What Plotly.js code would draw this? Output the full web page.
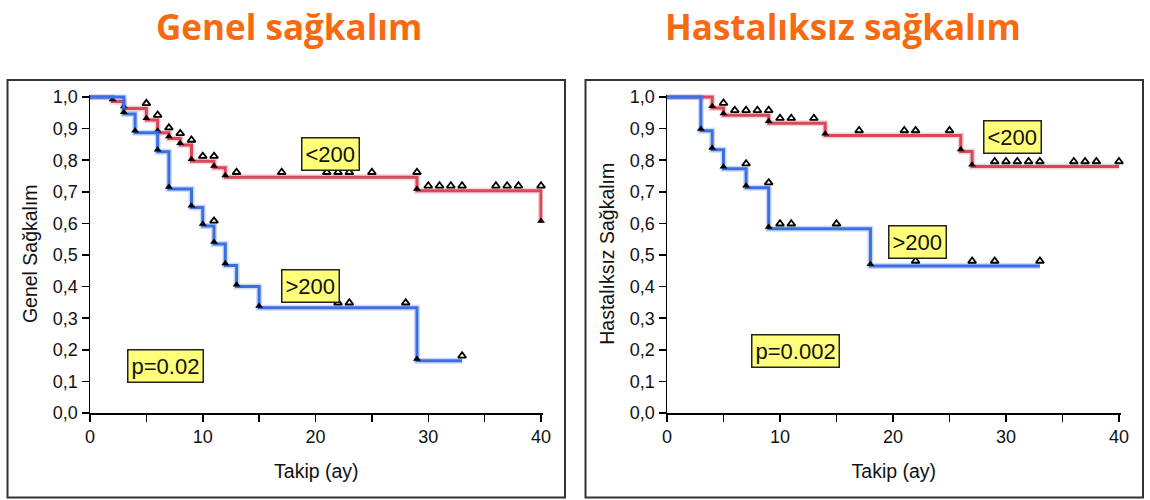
<!DOCTYPE html>
<html><head><meta charset="utf-8">
<script src="https://cdn.plot.ly/plotly-3.0.1.min.js"></script>
<style>html,body{margin:0;padding:0;background:#fff}#chart{width:1150px;height:500px}</style>
</head><body><div id="chart"></div>
<script>
// ---------- Data: Genel sağkalım (overall survival) ----------
const osLowTimes   = [0, 2, 3, 5, 6, 7, 8, 9, 11, 12, 29, 40];
const osLowSurv    = [1.0, 0.986, 0.964, 0.927, 0.887, 0.869, 0.848, 0.797, 0.776, 0.746, 0.703, 0.602];
const osLowCensor  = [5, 6, 7, 8, 9, 10, 11, 13, 17, 21, 22, 23, 25, 29, 30, 31, 32, 33, 36, 37, 38, 40];

const osHighTimes  = [0, 3, 4, 6, 7, 9, 10, 11, 12, 13, 15, 29, 33];
const osHighSurv   = [1.0, 0.946, 0.887, 0.827, 0.709, 0.650, 0.592, 0.535, 0.467, 0.400, 0.333, 0.165, 0.165];
const osHighCensor = [11, 22, 23, 28, 33];

// ---------- Data: Hastalıksız sağkalım (disease-free survival) ----------
const dfsLowTimes   = [0, 4, 5, 9, 14, 26, 27, 40];
const dfsLowSurv    = [1.0, 0.965, 0.942, 0.917, 0.878, 0.828, 0.780, 0.780];
const dfsLowCensor  = [5, 6, 7, 8, 9, 10, 11, 13, 17, 21, 22, 25, 29, 30, 31, 32, 33, 36, 37, 38, 40];

const dfsHighTimes  = [0, 3, 4, 5, 7, 9, 18, 33];
const dfsHighSurv   = [1.0, 0.893, 0.833, 0.773, 0.713, 0.583, 0.465, 0.465];
const dfsHighCensor = [7, 9, 10, 11, 15, 22, 27, 29, 33];

const yTickVals  = [0, 0.1, 0.2, 0.3, 0.4, 0.5, 0.6, 0.7, 0.8, 0.9, 1.0];
const yTickText  = ['0,0','0,1','0,2','0,3','0,4','0,5','0,6','0,7','0,8','0,9','1,0'];
const xTickVals  = [0, 10, 20, 30, 40];

const RED = '#d9475a', BLUE = '#3b6fe3';
const W = 1150, H = 500;

function levelBefore(times, surv, t) {
  let s = surv[0];
  for (let i = 0; i < times.length; i++) { if (times[i] < t) s = surv[i]; }
  return s;
}
function curveTraces(times, surv, censor, color, xa, ya) {
  const ev = {x: [], y: []};
  for (let i = 1; i < times.length; i++) {
    if (surv[i] < surv[i - 1]) { ev.x.push(times[i]); ev.y.push(surv[i] + 0.006); }
  }
  const cx = censor.slice();
  const cy = censor.map(t => levelBefore(times, surv, t) + 0.016);
  return [
    {x: times, y: surv, xaxis: xa, yaxis: ya, mode: 'lines', line: {shape: 'hv', color: color, width: 6}, opacity: 0.25, hoverinfo: 'skip'},
    {x: times, y: surv, xaxis: xa, yaxis: ya, mode: 'lines', line: {shape: 'hv', color: color, width: 3}, hoverinfo: 'skip'},
    {x: ev.x, y: ev.y, xaxis: xa, yaxis: ya, mode: 'markers', cliponaxis: false,
     marker: {symbol: 'triangle-up', size: 7, color: '#000'}, hoverinfo: 'skip'},
    {x: cx, y: cy, xaxis: xa, yaxis: ya, mode: 'markers', cliponaxis: false,
     marker: {symbol: 'triangle-up', size: 7, color: '#fff', line: {color: '#000', width: 1.8}}, hoverinfo: 'skip'}
  ];
}

const data = [].concat(
  curveTraces(osLowTimes, osLowSurv, osLowCensor, RED, 'x', 'y'),
  curveTraces(osHighTimes, osHighSurv, osHighCensor, BLUE, 'x', 'y'),
  curveTraces(dfsLowTimes, dfsLowSurv, dfsLowCensor, RED, 'x2', 'y2'),
  curveTraces(dfsHighTimes, dfsHighSurv, dfsHighCensor, BLUE, 'x2', 'y2')
);

const tickFont = {family: 'Liberation Sans, Arial, sans-serif', size: 18, color: '#111'};
const axTitleFont = {family: 'Liberation Sans, Arial, sans-serif', size: 19.5, color: '#111'};
const yDomain = [1 - 413 / H, 1 - 94.5 / H];
function xAxis(d0, d1, anchor) {
  return {domain: [d0 / W, d1 / W], range: [0, 40.15], anchor: anchor,
    tickmode: 'array', tickvals: xTickVals, ticks: 'outside', ticklen: 7, tickwidth: 1.5, tickcolor: '#000',
    minor: {dtick: 5, tick0: 0, ticks: 'outside', ticklen: 7, tickwidth: 1.5, tickcolor: '#000'},
    showline: true, linecolor: '#000', linewidth: 1.5, showgrid: false, zeroline: false,
    tickfont: tickFont, fixedrange: true,
    title: {text: 'Takip (ay)', font: axTitleFont, standoff: 18}};
}
function yAxis(anchor, title) {
  return {domain: yDomain, range: [0, 1.008], anchor: anchor,
    tickmode: 'array', tickvals: yTickVals, ticktext: yTickText, ticks: 'outside', ticklen: 7, tickwidth: 1.5, tickcolor: '#000',
    showline: true, linecolor: '#000', linewidth: 1.5, showgrid: false, zeroline: false,
    tickfont: tickFont, fixedrange: true,
    title: {text: title, font: axTitleFont, standoff: 10}};
}

function box(text, x, y, xref, yref) {
  return {text: text, x: x, y: y, xref: xref, yref: yref, showarrow: false,
    xanchor: 'center', yanchor: 'middle',
    font: {family: 'Liberation Sans, Arial, sans-serif', size: 22, color: '#111'},
    bgcolor: '#ffff7a', bordercolor: '#222', borderwidth: 1.5, borderpad: 3};
}
const titleFont = {family: 'Open Sans, Lato, sans-serif', size: 35, color: '#f86a10', weight: 700};

const layout = {
  width: W, height: H, autosize: false,
  margin: {l: 0, r: 0, t: 0, b: 0},
  paper_bgcolor: '#fff', plot_bgcolor: 'rgba(0,0,0,0)',
  showlegend: false,
  xaxis: xAxis(90, 542.7, 'y'),
  yaxis: yAxis('x', 'Genel Sağkalım'),
  xaxis2: xAxis(667, 1120.7, 'y2'),
  yaxis2: yAxis('x2', 'Hastalıksız Sağkalım'),
  shapes: [
    {type: 'rect', xref: 'paper', yref: 'paper', x0: 7.5 / W, x1: 565 / W, y0: 1 - 497.5 / H, y1: 1 - 80 / H, line: {color: '#333', width: 2}},
    {type: 'rect', xref: 'paper', yref: 'paper', x0: 585.5 / W, x1: 1143 / W, y0: 1 - 497.5 / H, y1: 1 - 80 / H, line: {color: '#333', width: 2}}
  ],
  annotations: [
    {text: 'Genel sağkalım', xref: 'paper', yref: 'paper', x: 289 / W, y: 1 - 26 / H, xanchor: 'center', yanchor: 'middle', showarrow: false, font: titleFont},
    {text: 'Hastalıksız sağkalım', xref: 'paper', yref: 'paper', x: 843 / W, y: 1 - 26 / H, xanchor: 'center', yanchor: 'middle', showarrow: false, font: titleFont},
    box('&lt;200', 21.3, 0.82, 'x', 'y'),
    box('&gt;200', 19.6, 0.403, 'x', 'y'),
    box('p=0.02', 6.7, 0.149, 'x', 'y'),
    box('&lt;200', 30.6, 0.873, 'x2', 'y2'),
    box('&gt;200', 22.2, 0.542, 'x2', 'y2'),
    box('p=0.002', 11.4, 0.197, 'x2', 'y2')
  ]
};

Plotly.newPlot('chart', data, layout, {staticPlot: true, displayModeBar: false});
</script>
</body></html>
